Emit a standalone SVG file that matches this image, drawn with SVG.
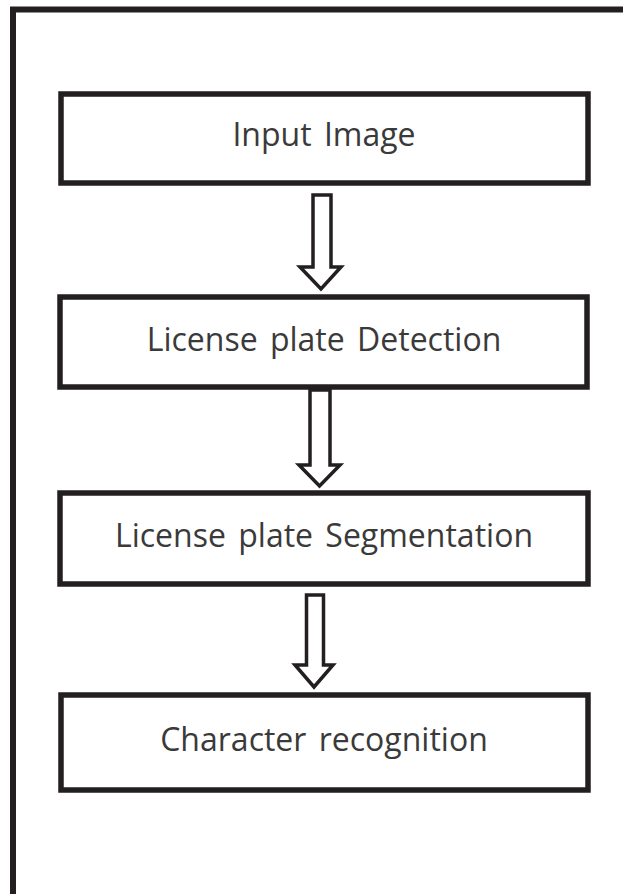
<svg xmlns="http://www.w3.org/2000/svg" width="623" height="894" viewBox="0 0 623 894">
<style>
.frame{fill:none;stroke:#231f20;stroke-width:6}
.box{fill:#fff;stroke:#231f20;stroke-width:5.5}
.lbl{font-family:"Open Sans","Noto Sans",sans-serif;font-size:32px;word-spacing:4px;fill:#3a3a3a;text-anchor:middle}
.arr{fill:#fff;stroke:#231f20;stroke-width:3.5;stroke-linejoin:miter}
</style>
<rect width="623" height="894" fill="#fff"/>
<path class="frame" d="M13 894 V9.5 H623"/>
<g id="node-input">
<rect class="box" x="61" y="94" width="527" height="89"/>
<text class="lbl" x="324" y="146">Input Image</text>
</g>
<g id="node-detection">
<rect class="box" x="60" y="297" width="527" height="90"/>
<text class="lbl" x="324" y="351">License plate Detection</text>
</g>
<g id="node-segmentation">
<rect class="box" x="60" y="493" width="528" height="91"/>
<text class="lbl" x="324" y="547">License plate Segmentation</text>
</g>
<g id="node-recognition">
<rect class="box" x="61" y="695" width="527" height="95"/>
<text class="lbl" x="324" y="751">Character recognition</text>
</g>
<g id="connectors">
<path class="arr" d="M313 195 H331 V267 H341 L321 289 L300 267 H313 Z"/>
<path class="arr" d="M310 390 H330 V465 H340 L319.5 486 L299 465 H310 Z"/>
<path class="arr" d="M306.5 595 H323.5 V665 H333 L314 687 L295 665 H306.5 Z"/>
</g>
</svg>
